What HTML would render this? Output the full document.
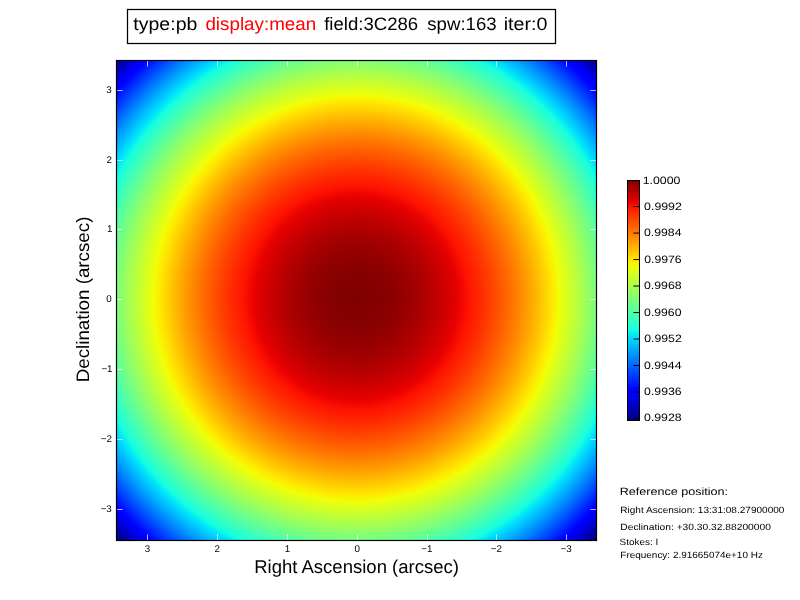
<!DOCTYPE html>
<html><head><meta charset="utf-8"><style>
html,body{margin:0;padding:0;background:#fff;width:800px;height:600px;overflow:hidden}
svg{position:absolute;left:0;top:0;display:block;font-family:"Liberation Sans",sans-serif;will-change:transform;text-rendering:geometricPrecision}
text{white-space:pre}
</style></head><body>
<svg width="800" height="600" viewBox="0 0 800 600">
<defs><radialGradient id="pb" gradientUnits="userSpaceOnUse" cx="356.20" cy="298.30" r="338.70" fx="356.20" fy="298.30"><stop offset="0.0000" stop-color="#800000"/><stop offset="0.0063" stop-color="#800000"/><stop offset="0.0125" stop-color="#800000"/><stop offset="0.0187" stop-color="#800000"/><stop offset="0.0250" stop-color="#800000"/><stop offset="0.0312" stop-color="#810000"/><stop offset="0.0375" stop-color="#810000"/><stop offset="0.0437" stop-color="#820000"/><stop offset="0.0500" stop-color="#820000"/><stop offset="0.0563" stop-color="#830000"/><stop offset="0.0625" stop-color="#840000"/><stop offset="0.0688" stop-color="#850000"/><stop offset="0.0750" stop-color="#860000"/><stop offset="0.0813" stop-color="#870000"/><stop offset="0.0875" stop-color="#880000"/><stop offset="0.0938" stop-color="#8a0000"/><stop offset="0.1000" stop-color="#8b0000"/><stop offset="0.1062" stop-color="#8d0000"/><stop offset="0.1125" stop-color="#8e0000"/><stop offset="0.1187" stop-color="#900000"/><stop offset="0.1250" stop-color="#920000"/><stop offset="0.1313" stop-color="#930000"/><stop offset="0.1375" stop-color="#950000"/><stop offset="0.1437" stop-color="#970000"/><stop offset="0.1500" stop-color="#9a0000"/><stop offset="0.1562" stop-color="#9c0000"/><stop offset="0.1625" stop-color="#9e0000"/><stop offset="0.1688" stop-color="#a10000"/><stop offset="0.1750" stop-color="#a30000"/><stop offset="0.1812" stop-color="#a60000"/><stop offset="0.1875" stop-color="#a80000"/><stop offset="0.1938" stop-color="#ab0000"/><stop offset="0.2000" stop-color="#ae0000"/><stop offset="0.2062" stop-color="#b10000"/><stop offset="0.2125" stop-color="#b40000"/><stop offset="0.2188" stop-color="#b70000"/><stop offset="0.2250" stop-color="#ba0000"/><stop offset="0.2313" stop-color="#bd0000"/><stop offset="0.2375" stop-color="#c10000"/><stop offset="0.2437" stop-color="#c40000"/><stop offset="0.2500" stop-color="#c80000"/><stop offset="0.2562" stop-color="#cc0000"/><stop offset="0.2625" stop-color="#cf0000"/><stop offset="0.2687" stop-color="#d30000"/><stop offset="0.2750" stop-color="#d70000"/><stop offset="0.2812" stop-color="#db0000"/><stop offset="0.2875" stop-color="#df0000"/><stop offset="0.2938" stop-color="#e40000"/><stop offset="0.3000" stop-color="#e80000"/><stop offset="0.3063" stop-color="#ec0400"/><stop offset="0.3125" stop-color="#f10700"/><stop offset="0.3187" stop-color="#f50b00"/><stop offset="0.3250" stop-color="#fa0f00"/><stop offset="0.3312" stop-color="#ff1300"/><stop offset="0.3375" stop-color="#ff1700"/><stop offset="0.3438" stop-color="#ff1b00"/><stop offset="0.3500" stop-color="#ff1f00"/><stop offset="0.3563" stop-color="#ff2300"/><stop offset="0.3625" stop-color="#ff2700"/><stop offset="0.3688" stop-color="#ff2b00"/><stop offset="0.3750" stop-color="#ff3000"/><stop offset="0.3812" stop-color="#ff3400"/><stop offset="0.3875" stop-color="#ff3900"/><stop offset="0.3937" stop-color="#ff3d00"/><stop offset="0.4000" stop-color="#ff4200"/><stop offset="0.4062" stop-color="#ff4700"/><stop offset="0.4125" stop-color="#ff4c00"/><stop offset="0.4188" stop-color="#ff5100"/><stop offset="0.4250" stop-color="#ff5600"/><stop offset="0.4313" stop-color="#ff5b00"/><stop offset="0.4375" stop-color="#ff6000"/><stop offset="0.4437" stop-color="#ff6500"/><stop offset="0.4500" stop-color="#ff6a00"/><stop offset="0.4562" stop-color="#ff7000"/><stop offset="0.4625" stop-color="#ff7500"/><stop offset="0.4688" stop-color="#ff7b00"/><stop offset="0.4750" stop-color="#ff8000"/><stop offset="0.4813" stop-color="#ff8600"/><stop offset="0.4875" stop-color="#ff8b00"/><stop offset="0.4938" stop-color="#ff9100"/><stop offset="0.5000" stop-color="#ff9700"/><stop offset="0.5062" stop-color="#ff9d00"/><stop offset="0.5125" stop-color="#ffa300"/><stop offset="0.5188" stop-color="#ffa900"/><stop offset="0.5250" stop-color="#ffaf00"/><stop offset="0.5312" stop-color="#ffb600"/><stop offset="0.5375" stop-color="#ffbc00"/><stop offset="0.5437" stop-color="#ffc200"/><stop offset="0.5500" stop-color="#ffc900"/><stop offset="0.5563" stop-color="#ffcf00"/><stop offset="0.5625" stop-color="#ffd600"/><stop offset="0.5687" stop-color="#ffdd00"/><stop offset="0.5750" stop-color="#ffe300"/><stop offset="0.5813" stop-color="#ffea00"/><stop offset="0.5875" stop-color="#fbf100"/><stop offset="0.5938" stop-color="#f5f802"/><stop offset="0.6000" stop-color="#efff08"/><stop offset="0.6062" stop-color="#e8ff0e"/><stop offset="0.6125" stop-color="#e2ff15"/><stop offset="0.6188" stop-color="#dcff1b"/><stop offset="0.6250" stop-color="#d5ff21"/><stop offset="0.6312" stop-color="#cfff28"/><stop offset="0.6375" stop-color="#c8ff2e"/><stop offset="0.6438" stop-color="#c2ff35"/><stop offset="0.6500" stop-color="#bbff3c"/><stop offset="0.6562" stop-color="#b4ff42"/><stop offset="0.6625" stop-color="#aeff49"/><stop offset="0.6687" stop-color="#a7ff50"/><stop offset="0.6750" stop-color="#a0ff57"/><stop offset="0.6813" stop-color="#99ff5e"/><stop offset="0.6875" stop-color="#92ff65"/><stop offset="0.6937" stop-color="#8bff6c"/><stop offset="0.7000" stop-color="#84ff73"/><stop offset="0.7063" stop-color="#7cff7a"/><stop offset="0.7125" stop-color="#75ff82"/><stop offset="0.7188" stop-color="#6eff89"/><stop offset="0.7250" stop-color="#66ff90"/><stop offset="0.7312" stop-color="#5fff98"/><stop offset="0.7375" stop-color="#57ffa0"/><stop offset="0.7438" stop-color="#50ffa7"/><stop offset="0.7500" stop-color="#48ffaf"/><stop offset="0.7562" stop-color="#40ffb7"/><stop offset="0.7625" stop-color="#38ffbe"/><stop offset="0.7688" stop-color="#31ffc6"/><stop offset="0.7750" stop-color="#29ffce"/><stop offset="0.7812" stop-color="#21ffd6"/><stop offset="0.7875" stop-color="#19ffde"/><stop offset="0.7937" stop-color="#10fae6"/><stop offset="0.8000" stop-color="#08f0ef"/><stop offset="0.8063" stop-color="#00e5f7"/><stop offset="0.8125" stop-color="#00dbff"/><stop offset="0.8187" stop-color="#00d1ff"/><stop offset="0.8250" stop-color="#00c6ff"/><stop offset="0.8313" stop-color="#00bcff"/><stop offset="0.8375" stop-color="#00b1ff"/><stop offset="0.8438" stop-color="#00a6ff"/><stop offset="0.8500" stop-color="#009cff"/><stop offset="0.8562" stop-color="#0091ff"/><stop offset="0.8625" stop-color="#0086ff"/><stop offset="0.8688" stop-color="#007bff"/><stop offset="0.8750" stop-color="#0070ff"/><stop offset="0.8812" stop-color="#0064ff"/><stop offset="0.8875" stop-color="#0059ff"/><stop offset="0.8938" stop-color="#004eff"/><stop offset="0.9000" stop-color="#0042ff"/><stop offset="0.9062" stop-color="#0037ff"/><stop offset="0.9125" stop-color="#002bff"/><stop offset="0.9187" stop-color="#0020ff"/><stop offset="0.9250" stop-color="#0014ff"/><stop offset="0.9313" stop-color="#0008ff"/><stop offset="0.9375" stop-color="#0000ff"/><stop offset="0.9437" stop-color="#0000fe"/><stop offset="0.9500" stop-color="#0000f1"/><stop offset="0.9563" stop-color="#0000e3"/><stop offset="0.9625" stop-color="#0000d5"/><stop offset="0.9688" stop-color="#0000c7"/><stop offset="0.9750" stop-color="#0000b9"/><stop offset="0.9812" stop-color="#0000ab"/><stop offset="0.9875" stop-color="#00009c"/><stop offset="0.9938" stop-color="#00008e"/><stop offset="1.0000" stop-color="#000080"/></radialGradient><linearGradient id="cbg" gradientUnits="userSpaceOnUse" x1="0" y1="419.50" x2="0" y2="180.50"><stop offset="0.0000" stop-color="#000080"/><stop offset="0.1100" stop-color="#0000ff"/><stop offset="0.1250" stop-color="#0000ff"/><stop offset="0.3400" stop-color="#00dbff"/><stop offset="0.3500" stop-color="#00e5f7"/><stop offset="0.3750" stop-color="#15ffe2"/><stop offset="0.6400" stop-color="#efff08"/><stop offset="0.6500" stop-color="#f7f600"/><stop offset="0.6600" stop-color="#ffec00"/><stop offset="0.8900" stop-color="#ff1300"/><stop offset="0.9100" stop-color="#e80000"/><stop offset="1.0000" stop-color="#800000"/></linearGradient></defs>
<rect x="0" y="0" width="800" height="600" fill="#fff"/>
<rect x="117" y="61" width="479" height="479" fill="url(#pb)"/>
</svg>

<svg width="800" height="600" viewBox="0 0 800 600">
<line x1="147.50" y1="540" x2="147.50" y2="534.4" stroke="#ffffff" stroke-opacity="0.72" stroke-width="1"/>
<line x1="147.50" y1="61" x2="147.50" y2="66.6" stroke="#ffffff" stroke-opacity="0.72" stroke-width="1"/>
<line x1="117" y1="90.50" x2="122.6" y2="90.50" stroke="#ffffff" stroke-opacity="0.72" stroke-width="1"/>
<line x1="596" y1="90.50" x2="590.4" y2="90.50" stroke="#ffffff" stroke-opacity="0.72" stroke-width="1"/>
<line x1="217.50" y1="540" x2="217.50" y2="534.4" stroke="#ffffff" stroke-opacity="0.72" stroke-width="1"/>
<line x1="217.50" y1="61" x2="217.50" y2="66.6" stroke="#ffffff" stroke-opacity="0.72" stroke-width="1"/>
<line x1="117" y1="160.50" x2="122.6" y2="160.50" stroke="#ffffff" stroke-opacity="0.72" stroke-width="1"/>
<line x1="596" y1="160.50" x2="590.4" y2="160.50" stroke="#ffffff" stroke-opacity="0.72" stroke-width="1"/>
<line x1="287.50" y1="540" x2="287.50" y2="534.4" stroke="#ffffff" stroke-opacity="0.72" stroke-width="1"/>
<line x1="287.50" y1="61" x2="287.50" y2="66.6" stroke="#ffffff" stroke-opacity="0.72" stroke-width="1"/>
<line x1="117" y1="229.50" x2="122.6" y2="229.50" stroke="#ffffff" stroke-opacity="0.72" stroke-width="1"/>
<line x1="596" y1="229.50" x2="590.4" y2="229.50" stroke="#ffffff" stroke-opacity="0.72" stroke-width="1"/>
<line x1="357.50" y1="540" x2="357.50" y2="534.4" stroke="#ffffff" stroke-opacity="0.72" stroke-width="1"/>
<line x1="357.50" y1="61" x2="357.50" y2="66.6" stroke="#ffffff" stroke-opacity="0.72" stroke-width="1"/>
<line x1="117" y1="299.50" x2="122.6" y2="299.50" stroke="#ffffff" stroke-opacity="0.72" stroke-width="1"/>
<line x1="596" y1="299.50" x2="590.4" y2="299.50" stroke="#ffffff" stroke-opacity="0.72" stroke-width="1"/>
<line x1="427.50" y1="540" x2="427.50" y2="534.4" stroke="#ffffff" stroke-opacity="0.72" stroke-width="1"/>
<line x1="427.50" y1="61" x2="427.50" y2="66.6" stroke="#ffffff" stroke-opacity="0.72" stroke-width="1"/>
<line x1="117" y1="369.50" x2="122.6" y2="369.50" stroke="#ffffff" stroke-opacity="0.72" stroke-width="1"/>
<line x1="596" y1="369.50" x2="590.4" y2="369.50" stroke="#ffffff" stroke-opacity="0.72" stroke-width="1"/>
<line x1="496.50" y1="540" x2="496.50" y2="534.4" stroke="#ffffff" stroke-opacity="0.72" stroke-width="1"/>
<line x1="496.50" y1="61" x2="496.50" y2="66.6" stroke="#ffffff" stroke-opacity="0.72" stroke-width="1"/>
<line x1="117" y1="439.50" x2="122.6" y2="439.50" stroke="#ffffff" stroke-opacity="0.72" stroke-width="1"/>
<line x1="596" y1="439.50" x2="590.4" y2="439.50" stroke="#ffffff" stroke-opacity="0.72" stroke-width="1"/>
<line x1="566.50" y1="540" x2="566.50" y2="534.4" stroke="#ffffff" stroke-opacity="0.72" stroke-width="1"/>
<line x1="566.50" y1="61" x2="566.50" y2="66.6" stroke="#ffffff" stroke-opacity="0.72" stroke-width="1"/>
<line x1="117" y1="509.50" x2="122.6" y2="509.50" stroke="#ffffff" stroke-opacity="0.72" stroke-width="1"/>
<line x1="596" y1="509.50" x2="590.4" y2="509.50" stroke="#ffffff" stroke-opacity="0.72" stroke-width="1"/>
<rect x="116.5" y="60.5" width="480" height="480" fill="none" stroke="#000" stroke-width="1.2"/>
<rect x="628" y="181" width="11" height="239" fill="url(#cbg)"/>
<line x1="639" y1="206.59" x2="633.4" y2="206.59" stroke="#000" stroke-width="1"/>
<line x1="639" y1="233.08" x2="633.4" y2="233.08" stroke="#000" stroke-width="1"/>
<line x1="639" y1="259.57" x2="633.4" y2="259.57" stroke="#000" stroke-width="1"/>
<line x1="639" y1="286.06" x2="633.4" y2="286.06" stroke="#000" stroke-width="1"/>
<line x1="639" y1="312.55" x2="633.4" y2="312.55" stroke="#000" stroke-width="1"/>
<line x1="639" y1="339.04" x2="633.4" y2="339.04" stroke="#000" stroke-width="1"/>
<line x1="639" y1="365.53" x2="633.4" y2="365.53" stroke="#000" stroke-width="1"/>
<line x1="639" y1="392.02" x2="633.4" y2="392.02" stroke="#000" stroke-width="1"/>
<line x1="639" y1="418.51" x2="633.4" y2="418.51" stroke="#000" stroke-width="1"/>
<rect x="627.5" y="180.5" width="12" height="240" fill="none" stroke="#000" stroke-width="1"/>
<rect x="127.5" y="9.5" width="428" height="34" fill="#fff" stroke="#000" stroke-width="1.25"/>
<text x="133.32" y="29.70" font-size="18.00" fill="#000" textLength="64.03" lengthAdjust="spacingAndGlyphs">type:pb</text>
<text x="205.41" y="29.70" font-size="18.00" fill="#ff0000" textLength="110.80" lengthAdjust="spacingAndGlyphs">display:mean</text>
<text x="324.19" y="29.70" font-size="18.00" fill="#000" textLength="94.03" lengthAdjust="spacingAndGlyphs">field:3C286</text>
<text x="427.24" y="29.70" font-size="18.00" fill="#000" textLength="69.43" lengthAdjust="spacingAndGlyphs">spw:163</text>
<text x="503.66" y="29.70" font-size="18.00" fill="#000" textLength="43.81" lengthAdjust="spacingAndGlyphs">iter:0</text>
<text x="254.18" y="572.75" font-size="18.50" fill="#000" textLength="204.76" lengthAdjust="spacingAndGlyphs">Right Ascension (arcsec)</text>
<text x="88.52" y="382.30" font-size="18.00" fill="#000" textLength="165.72" lengthAdjust="spacingAndGlyphs" transform="rotate(-90 88.52 382.30)">Declination (arcsec)</text>
<text x="147.51" y="552.00" font-size="9.80" fill="#000" text-anchor="middle">3</text>
<text x="217.30" y="552.00" font-size="9.80" fill="#000" text-anchor="middle">2</text>
<text x="287.41" y="552.00" font-size="9.80" fill="#000" text-anchor="middle">1</text>
<text x="357.19" y="552.00" font-size="9.80" fill="#000" text-anchor="middle">0</text>
<text x="426.79" y="552.00" font-size="9.80" fill="#000" text-anchor="middle">−1</text>
<text x="496.43" y="552.00" font-size="9.80" fill="#000" text-anchor="middle">−2</text>
<text x="566.14" y="551.64" font-size="9.80" fill="#000" text-anchor="middle">−3</text>
<text x="111.82" y="92.80" font-size="9.80" fill="#000" text-anchor="end">3</text>
<text x="111.98" y="162.63" font-size="9.80" fill="#000" text-anchor="end">2</text>
<text x="112.55" y="232.46" font-size="9.80" fill="#000" text-anchor="end">1</text>
<text x="111.63" y="302.29" font-size="9.80" fill="#000" text-anchor="end">0</text>
<text x="112.55" y="372.12" font-size="9.80" fill="#000" text-anchor="end">−1</text>
<text x="111.98" y="441.95" font-size="9.80" fill="#000" text-anchor="end">−2</text>
<text x="111.82" y="512.43" font-size="9.80" fill="#000" text-anchor="end">−3</text>
<text x="642.70" y="183.80" font-size="10.70" fill="#000" textLength="37.80" lengthAdjust="spacingAndGlyphs">1.0000</text>
<text x="644.10" y="210.25" font-size="10.70" fill="#000" textLength="37.78" lengthAdjust="spacingAndGlyphs">0.9992</text>
<text x="643.98" y="235.70" font-size="10.70" fill="#000" textLength="37.51" lengthAdjust="spacingAndGlyphs">0.9984</text>
<text x="644.20" y="263.15" font-size="10.70" fill="#000" textLength="37.52" lengthAdjust="spacingAndGlyphs">0.9976</text>
<text x="643.98" y="288.60" font-size="10.70" fill="#000" textLength="37.66" lengthAdjust="spacingAndGlyphs">0.9968</text>
<text x="644.11" y="316.05" font-size="10.70" fill="#000" textLength="37.35" lengthAdjust="spacingAndGlyphs">0.9960</text>
<text x="644.28" y="341.50" font-size="10.70" fill="#000" textLength="37.45" lengthAdjust="spacingAndGlyphs">0.9952</text>
<text x="643.96" y="368.95" font-size="10.70" fill="#000" textLength="37.59" lengthAdjust="spacingAndGlyphs">0.9944</text>
<text x="644.14" y="395.40" font-size="10.70" fill="#000" textLength="37.48" lengthAdjust="spacingAndGlyphs">0.9936</text>
<text x="644.05" y="420.85" font-size="10.70" fill="#000" textLength="37.59" lengthAdjust="spacingAndGlyphs">0.9928</text>
<text x="619.77" y="494.85" font-size="10.50" fill="#000" textLength="108.32" lengthAdjust="spacingAndGlyphs">Reference position:</text>
<text x="620.27" y="512.60" font-size="9.00" fill="#000" textLength="164.13" lengthAdjust="spacingAndGlyphs">Right Ascension: 13:31:08.27900000</text>
<text x="620.30" y="529.70" font-size="9.00" fill="#000" textLength="150.57" lengthAdjust="spacingAndGlyphs">Declination: +30.30.32.88200000</text>
<text x="619.49" y="544.50" font-size="9.00" fill="#000" textLength="38.76" lengthAdjust="spacingAndGlyphs">Stokes: I</text>
<text x="620.30" y="558.30" font-size="9.00" fill="#000" textLength="142.58" lengthAdjust="spacingAndGlyphs">Frequency: 2.91665074e+10 Hz</text>
</svg>
</body></html>
